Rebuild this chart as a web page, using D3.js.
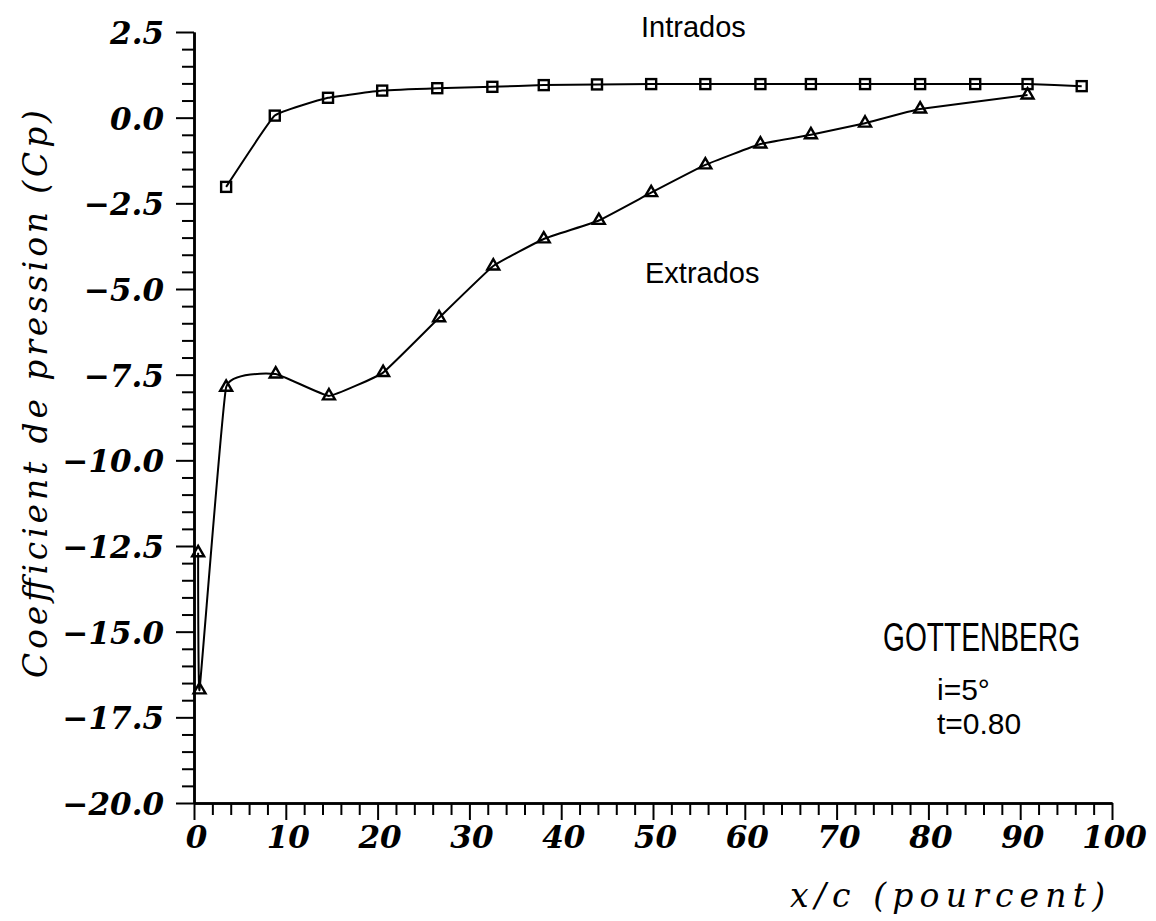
<!DOCTYPE html>
<html>
<head>
<meta charset="utf-8">
<script src="https://cdn.jsdelivr.net/npm/d3@7"></script>
<style>
  html, body { margin: 0; padding: 0; background: #fff; }
  svg { display: block; }
</style>
</head>
<body>
<svg id="chart" width="1156" height="921"></svg>
<script>
// Pressure coefficient along the chord, lower and upper surfaces
const xIntrados = [3.5, 8.8, 14.6, 20.5, 26.5, 32.5, 38.1, 43.9, 49.8, 55.7, 61.7, 67.2, 73.1, 79.1, 85.1, 90.8, 96.7];
const cpIntrados = [-2.02, 0.06, 0.58, 0.79, 0.86, 0.90, 0.95, 0.97, 0.98, 0.98, 0.98, 0.98, 0.98, 0.98, 0.98, 0.98, 0.92];

const xExtrados = [0.45, 0.6, 3.5, 8.9, 14.7, 20.6, 26.7, 32.6, 38.1, 44.1, 49.8, 55.7, 61.7, 67.2, 73.1, 79.1, 90.8];
const cpExtrados = [-12.7, -16.7, -7.87, -7.48, -8.12, -7.44, -5.84, -4.33, -3.54, -3.0, -2.19, -1.38, -0.77, -0.50, -0.16, 0.25, 0.66];

const yMajorTicks = [2.5, 0, -2.5, -5, -7.5, -10, -12.5, -15, -17.5, -20];
const xMajorTicks = [0, 10, 20, 30, 40, 50, 60, 70, 80, 90, 100];
const yMinorStep = 0.5;
const xMinorStep = 2;

const yTitle = "Coefficient de pression (Cp)";
const xTitle = "x/c (pourcent)";
const seriesNames = ["Intrados", "Extrados"];
const caseName = "GOTTENBERG";
const caseParams = ["i=5°", "t=0.80"];

const svg = d3.select("#chart");

const x = d3.scaleLinear().domain([0, 100]).range([194, 1112]);
const y = d3.scaleLinear().domain([-20, 2.5]).range([803, 32]);

const tickFont = "'DejaVu Serif', serif";
const titleFont = "'DejaVu Serif', serif";
const ink = "#000";

// ---- Y axis ----
const yMinor = d3.range(-20, 2.5 + 1e-9, yMinorStep).filter(v => !yMajorTicks.some(t => Math.abs(t - v) < 1e-6));
const gy = svg.append("g").attr("transform", `translate(${x(0)},0)`);
gy.call(d3.axisLeft(y).tickValues(yMinor).tickSize(12).tickSizeOuter(0).tickFormat(""));
gy.call(g => g.append("g").call(d3.axisLeft(y).tickValues(yMajorTicks).tickSize(18).tickSizeOuter(0).tickFormat(d3.format(".1f"))));
gy.selectAll("path.domain").attr("stroke", ink).attr("stroke-width", 2.5);
gy.selectAll(".tick line").attr("stroke", ink).attr("stroke-width", 2);
gy.selectAll(".tick text")
  .attr("x", -30).attr("dy", "0.37em")
  .attr("fill", ink)
  .style("font-family", tickFont).style("font-style", "italic").style("font-weight", "bold")
  .style("font-size", "31px").attr("text-anchor", "end");

// ---- X axis ----
const xMinor = d3.range(0, 100 + 1e-9, xMinorStep).filter(v => v % 10 !== 0);
const gx = svg.append("g").attr("transform", `translate(0,${y(-20)})`);
gx.call(d3.axisBottom(x).tickValues(xMinor).tickSize(12).tickSizeOuter(0).tickFormat(""));
gx.call(g => g.append("g").call(d3.axisBottom(x).tickValues(xMajorTicks).tickSize(17).tickSizeOuter(0).tickFormat(d3.format("d"))));
gx.selectAll("path.domain").attr("stroke", ink).attr("stroke-width", 2.5);
gx.selectAll(".tick line").attr("stroke", ink).attr("stroke-width", 2);
gx.selectAll(".tick text")
  .attr("y", 45).attr("dy", 0).attr("x", 2)
  .attr("fill", ink)
  .style("font-family", tickFont).style("font-style", "italic").style("font-weight", "bold")
  .style("font-size", "31px").attr("text-anchor", "middle");

// ---- Axis titles ----
svg.append("text")
  .attr("transform", "translate(47,394) rotate(-90)")
  .attr("text-anchor", "middle")
  .attr("textLength", 568).attr("lengthAdjust", "spacing")
  .style("font-family", titleFont).style("font-style", "italic")
  .style("font-size", "33px").attr("fill", ink)
  .text(yTitle);

svg.append("text")
  .attr("x", 790).attr("y", 907)
  .attr("textLength", 315).attr("lengthAdjust", "spacing")
  .style("font-family", titleFont).style("font-style", "italic")
  .style("font-size", "33px").attr("fill", ink)
  .text(xTitle);

// ---- Curves ----
const line = d3.line()
  .x(d => x(d[0])).y(d => y(d[1]))
  .curve(d3.curveCardinal.tension(0.7));

const intrados = xIntrados.map((v, i) => [v, cpIntrados[i]]);
const extrados = xExtrados.map((v, i) => [v, cpExtrados[i]]);

svg.append("path").datum(intrados).attr("d", line)
  .attr("fill", "none").attr("stroke", ink).attr("stroke-width", 2);
svg.append("path").datum(extrados).attr("d", line)
  .attr("fill", "none").attr("stroke", ink).attr("stroke-width", 2);

// square markers on the lower surface
svg.append("g").selectAll("rect").data(intrados).join("rect")
  .attr("x", d => x(d[0]) - 5).attr("y", d => y(d[1]) - 5)
  .attr("width", 10).attr("height", 10)
  .attr("fill", "none").attr("stroke", ink).attr("stroke-width", 2.4);

// triangle markers on the upper surface
const tri = d3.symbol().type(d3.symbolTriangle).size(62);
svg.append("g").selectAll("path").data(extrados).join("path")
  .attr("transform", d => `translate(${x(d[0])},${y(d[1])})`)
  .attr("d", tri)
  .attr("fill", "none").attr("stroke", ink).attr("stroke-width", 2.4);

// ---- Annotations ----
const sans = "'Liberation Sans', Arial, sans-serif";
svg.append("text").attr("x", 641).attr("y", 37)
  .style("font-family", sans).style("font-size", "29px").attr("fill", ink)
  .text(seriesNames[0]);
svg.append("text").attr("x", 645).attr("y", 283)
  .style("font-family", sans).style("font-size", "29px").attr("fill", ink)
  .text(seriesNames[1]);

// condensed case title
svg.append("text")
  .attr("transform", "translate(883,651) scale(0.704,1)")
  .attr("x", 0).attr("y", 0)
  .style("font-family", sans).style("font-size", "40px").attr("fill", ink)
  .text(caseName);

caseParams.forEach((t, i) => {
  svg.append("text").attr("x", 937).attr("y", 700 + i * 34)
    .style("font-family", sans).style("font-size", "30px").attr("fill", ink)
    .text(t);
});
</script>
</body>
</html>
